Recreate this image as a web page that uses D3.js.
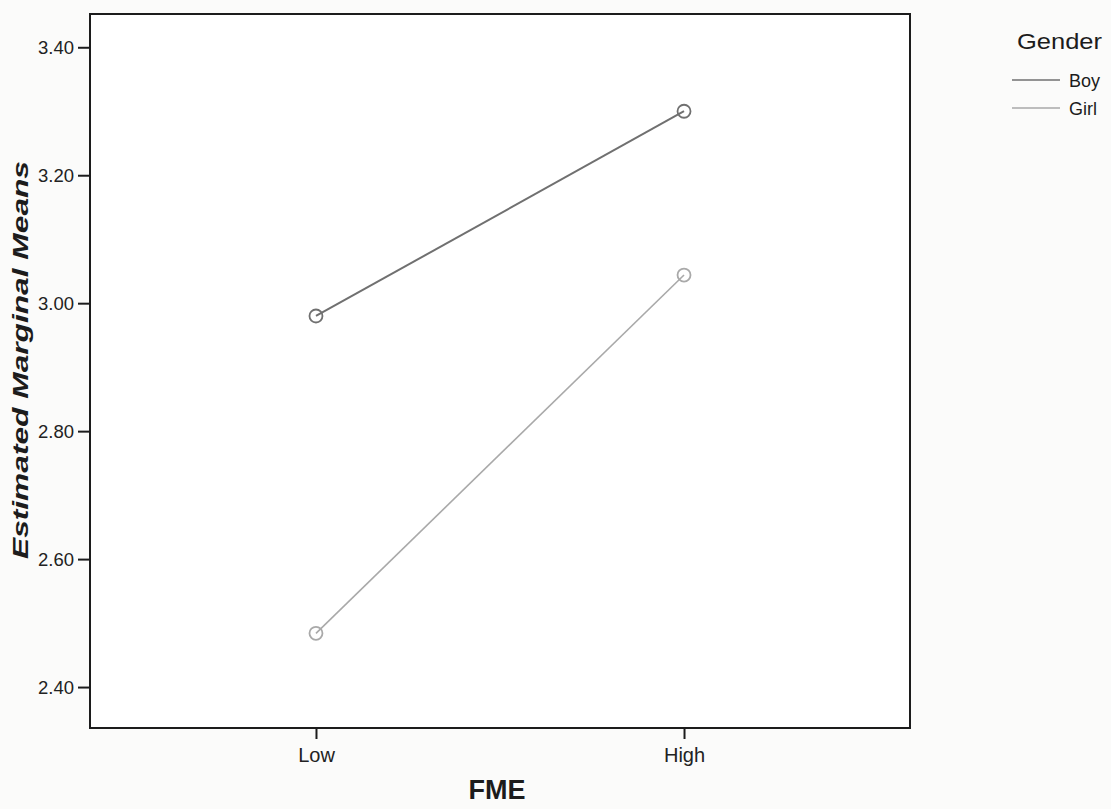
<!DOCTYPE html>
<html>
<head>
<meta charset="utf-8">
<script src="https://cdn.jsdelivr.net/npm/d3@7"></script>
<style>
  html, body { margin: 0; padding: 0; background: #fbfbfa; }
  svg { display: block; font-family: "Liberation Sans", Arial, sans-serif; }
</style>
</head>
<body>
<svg id="chart" width="1111" height="809"></svg>
<script>
// Estimated marginal means of the outcome by FME level and gender
const fmeLevels = ["Low", "High"];
const genders = ["Boy", "Girl"];
const boyMeans = [2.980, 3.300];
const girlMeans = [2.484, 3.044];
const yTicks = [2.40, 2.60, 2.80, 3.00, 3.20, 3.40];
const seriesColors = ["#707070", "#a9a9a9"];
const seriesWidths = [2, 1.6];

const series = genders.map((g, i) => ({
  name: g,
  values: i === 0 ? boyMeans : girlMeans,
  color: seriesColors[i],
  width: seriesWidths[i]
}));

const svg = d3.select("#chart");
const plot = { left: 90, right: 910, top: 14, bottom: 728 };
const ink = "#1c1c1c";
const font = "Liberation Sans, Arial, sans-serif";

const x = d3.scalePoint()
  .domain(fmeLevels)
  .range([plot.left, plot.right])
  .padding(0.614);

const y = d3.scaleLinear()
  .domain([2.336, 3.452])
  .range([plot.bottom, plot.top]);

// plot area
svg.append("rect")
  .attr("x", plot.left).attr("y", plot.top)
  .attr("width", plot.right - plot.left)
  .attr("height", plot.bottom - plot.top)
  .attr("fill", "#ffffff")
  .attr("stroke", ink)
  .attr("stroke-width", 2);

// y axis
const yg = svg.append("g")
  .attr("transform", `translate(${plot.left},0)`)
  .call(d3.axisLeft(y)
    .tickValues(yTicks)
    .tickFormat(d3.format(".2f"))
    .tickSize(12)
    .tickPadding(4));
yg.select(".domain").remove();
yg.selectAll(".tick line").attr("stroke", ink).attr("stroke-width", 2);
yg.selectAll(".tick text")
  .attr("font-size", 18.5).attr("fill", "#222").attr("font-family", font)
  .attr("dy", "0.36em");

// x axis
const xg = svg.append("g")
  .attr("transform", `translate(0,${plot.bottom})`)
  .call(d3.axisBottom(x).tickSize(11).tickPadding(9));
xg.select(".domain").remove();
xg.selectAll(".tick line").attr("stroke", ink).attr("stroke-width", 2);
xg.selectAll(".tick text")
  .attr("font-size", 20).attr("fill", "#222").attr("font-family", font);

// axis titles
svg.append("text")
  .attr("x", 497)
  .attr("y", 799)
  .attr("text-anchor", "middle")
  .attr("font-size", 27).attr("font-weight", "bold").attr("fill", ink)
  .text("FME");

svg.append("text")
  .attr("transform", "translate(28,360) rotate(-90)")
  .attr("text-anchor", "middle")
  .attr("font-size", 22).attr("font-weight", "bold").attr("font-style", "italic")
  .attr("textLength", 398).attr("lengthAdjust", "spacingAndGlyphs")
  .attr("fill", ink)
  .text("Estimated Marginal Means");

// lines and markers
const line = d3.line()
  .x((d, i) => x(fmeLevels[i]))
  .y(d => y(d));

const sg = svg.append("g");
series.forEach(s => {
  sg.append("path")
    .datum(s.values)
    .attr("d", line)
    .attr("fill", "none")
    .attr("stroke", s.color)
    .attr("stroke-width", s.width);
  sg.selectAll(null)
    .data(s.values)
    .join("circle")
    .attr("cx", (d, i) => x(fmeLevels[i]))
    .attr("cy", d => y(d))
    .attr("r", 6.5)
    .attr("fill", "none")
    .attr("stroke", s.color)
    .attr("stroke-width", 1.8);
});

// legend
const lg = svg.append("g").attr("transform", "translate(1012,0)");
lg.append("text")
  .attr("x", 5).attr("y", 49)
  .attr("font-size", 22).attr("fill", ink)
  .attr("textLength", 85).attr("lengthAdjust", "spacingAndGlyphs")
  .text("Gender");
series.forEach((s, i) => {
  const yy = 80 + i * 28;
  lg.append("line")
    .attr("x1", 0).attr("x2", 48)
    .attr("y1", yy).attr("y2", yy)
    .attr("stroke", s.color).attr("stroke-width", 1.5);
  lg.append("text")
    .attr("x", 57).attr("y", yy + 6.5)
    .attr("font-size", 18).attr("fill", ink)
    .text(s.name);
});
</script>
</body>
</html>
